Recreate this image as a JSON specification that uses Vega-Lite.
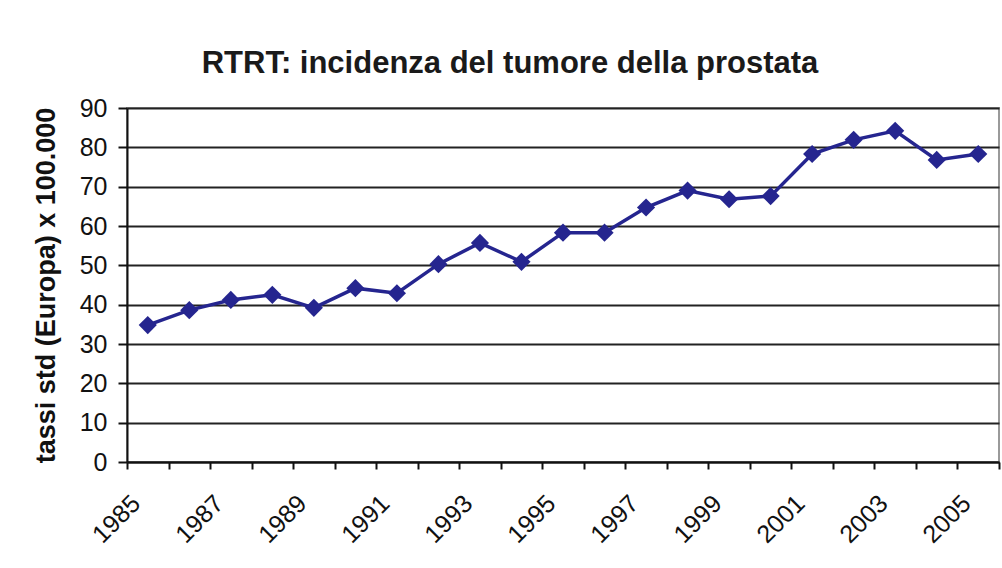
{
  "$schema": "https://vega.github.io/schema/vega-lite/v6.json",
  "width": 872,
  "height": 354,
  "autosize": "none",
  "padding": {"left": 127, "top": 108, "right": 3, "bottom": 106},
  "background": "white",
  "title": {
    "text": "RTRT: incidenza del tumore della prostata",
    "font": "Liberation Sans",
    "fontSize": 31,
    "fontWeight": "bold",
    "color": "#1a1a1a",
    "anchor": "middle",
    "dx": -53,
    "offset": 16
  },
  "data": {
    "values": [
      {"anno": 1985, "tasso": 34.8},
      {"anno": 1986, "tasso": 38.6},
      {"anno": 1987, "tasso": 41.2},
      {"anno": 1988, "tasso": 42.5},
      {"anno": 1989, "tasso": 39.2},
      {"anno": 1990, "tasso": 44.2},
      {"anno": 1991, "tasso": 42.9},
      {"anno": 1992, "tasso": 50.3},
      {"anno": 1993, "tasso": 55.7},
      {"anno": 1994, "tasso": 50.9},
      {"anno": 1995, "tasso": 58.3},
      {"anno": 1996, "tasso": 58.3},
      {"anno": 1997, "tasso": 64.7},
      {"anno": 1998, "tasso": 69.0},
      {"anno": 1999, "tasso": 66.8},
      {"anno": 2000, "tasso": 67.6},
      {"anno": 2001, "tasso": 78.3},
      {"anno": 2002, "tasso": 81.9},
      {"anno": 2003, "tasso": 84.2},
      {"anno": 2004, "tasso": 76.8},
      {"anno": 2005, "tasso": 78.3}
    ]
  },
  "encoding": {
    "x": {
      "field": "anno",
      "type": "ordinal",
      "scale": {"type": "band", "paddingInner": 0, "paddingOuter": 0},
      "axis": {
        "title": null,
        "grid": false,
        "tickBand": "extent",
        "tickSize": 7,
        "tickWidth": 2,
        "tickColor": "#111111",
        "domainColor": "#111111",
        "domainWidth": 2,
        "labelAngle": -45,
        "labelAlign": "right",
        "labelBaseline": "middle",
        "labelOffset": -12,
        "labelPadding": 30,
        "labelFont": "Liberation Sans",
        "labelFontSize": 25,
        "labelColor": "#111111",
        "labelOverlap": false,
        "labelFlush": false,
        "labelExpr": "datum.value % 2 == 1 ? datum.label : ''"
      }
    },
    "y": {
      "field": "tasso",
      "type": "quantitative",
      "scale": {"domain": [0, 90], "nice": false},
      "axis": {
        "values": [0, 10, 20, 30, 40, 50, 60, 70, 80, 90],
        "grid": true,
        "gridColor": "#222222",
        "gridWidth": 2,
        "domainColor": "#111111",
        "domainWidth": 2,
        "tickColor": "#111111",
        "tickSize": 9,
        "tickWidth": 2,
        "labelFont": "Liberation Sans",
        "labelFontSize": 25,
        "labelColor": "#111111",
        "labelPadding": 11,
        "title": "tassi std (Europa) x 100.000",
        "titleFont": "Liberation Sans",
        "titleFontSize": 27,
        "titleFontWeight": "bold",
        "titleColor": "#111111",
        "titleAngle": 270,
        "titleX": -81,
        "titleY": 177,
        "titleAlign": "center",
        "titleBaseline": "middle"
      }
    }
  },
  "layer": [
    {"mark": {"type": "line", "color": "#25258f", "strokeWidth": 3.5}},
    {"mark": {"type": "point", "shape": "diamond", "filled": true, "size": 330, "color": "#25258f", "opacity": 1}}
  ],
  "config": {"view": {"stroke": "#9a9a9a", "strokeWidth": 2}}
}
